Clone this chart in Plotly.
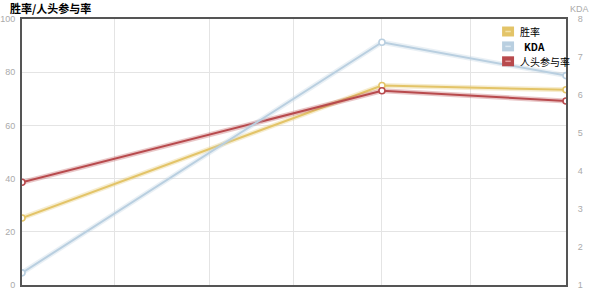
import plotly.graph_objects as go

# data
x_grid = [0, 1.02, 2.07, 2.99, 3.97, 4.95, 6]   # vertical grid positions
x_pos = [0, 3.97, 6]
win_rate = [25.2, 75.0, 73.4]        # 胜率 (%)
kill_part = [38.6, 73.0, 69.2]       # 人头参与率 (%)
kda = [1.32, 7.39, 6.51]             # KDA (right axis)
left_ticks = [0, 20, 40, 60, 80, 100]
right_ticks = [1, 2, 3, 4, 5, 6, 7, 8]
series_names = ["胜率", "KDA", "人头参与率"]

c_yellow = "#e3c468"
c_blue = "#b9cfe0"
c_red = "#b84a4d"
c_yellow_l = "#f3e3a8"
c_blue_l = "#dde9f2"
c_red_l = "#e49a9c"

FONT = "Noto Sans CJK SC"

fig = go.Figure()

def add_series(x, y, color, name, axis):
    # soft halo
    fig.add_trace(go.Scatter(x=x, y=y, mode="lines", yaxis=axis,
                             line=dict(color=color, width=5), opacity=0.3,
                             showlegend=False, hoverinfo="skip"))
    fig.add_trace(go.Scatter(x=x, y=y, mode="lines+markers", yaxis=axis,
                             line=dict(color=color, width=2),
                             marker=dict(symbol="circle", size=6, color="white",
                                         line=dict(color=color, width=1.6)),
                             showlegend=False, name=name))

add_series(x_pos, kda, c_blue, series_names[1], "y2")
add_series(x_pos, win_rate, c_yellow, series_names[0], "y")
add_series(x_pos, kill_part, c_red, series_names[2], "y")

# custom legend: icons as shapes (paper coords), labels as annotations
legend_colors = [c_yellow, c_blue, c_red]
legend_light = [c_yellow_l, c_blue_l, c_red_l]
legend_y = [0.953, 0.897, 0.841]
icon_x0, icon_x1 = 0.8825, 0.9045
icon_h = 0.0375
shapes = []
annotations = []
for nm, col, lc, ly in zip(series_names, legend_colors, legend_light, legend_y):
    shapes.append(dict(type="rect", xref="paper", yref="paper",
                       x0=icon_x0, x1=icon_x1, y0=ly - icon_h / 2, y1=ly + icon_h / 2,
                       fillcolor=col, line=dict(width=0), layer="above"))
    shapes.append(dict(type="line", xref="paper", yref="paper",
                       x0=icon_x0 + 0.006, x1=icon_x1 - 0.006, y0=ly, y1=ly,
                       line=dict(color=lc, width=1.5), layer="above"))
    label = "<b>KDA</b>" if nm == "KDA" else nm
    annotations.append(dict(text=label, xref="paper", yref="paper", x=0.913, y=ly,
                            xanchor="left", yanchor="middle", showarrow=False,
                            xshift=(4 if nm == "KDA" else 0), borderpad=0,
                            font=dict(family=FONT, size=10, color="#000000")))

annotations += [
    dict(text="<b>胜率/人头参与率</b>", xref="paper", yref="paper",
         x=-0.026, y=1.0, xanchor="left", yanchor="bottom", yshift=1,
         showarrow=False, font=dict(family=FONT, size=11, color="#000000")),
    dict(text="KDA", xref="paper", yref="paper", x=1.0, y=1.0,
         xanchor="left", yanchor="bottom", xshift=2, yshift=3, showarrow=False,
         font=dict(family="Arial", size=9, color="#aaaaaa")),
]

fig.update_layout(
    width=593, height=300,
    margin=dict(l=22, r=27, t=19, b=15),
    paper_bgcolor="white", plot_bgcolor="white",
    font=dict(family=FONT, size=9, color="#999999"),
    showlegend=False,
    xaxis=dict(range=[0, 6], tickvals=x_grid, showticklabels=False,
               showgrid=True, gridcolor="#e4e4e4", gridwidth=1,
               zeroline=False, showline=True, linecolor="#555555", linewidth=2,
               mirror=True, ticks="", automargin=False),
    yaxis=dict(range=[0, 100], tickvals=left_ticks, showgrid=True,
               gridcolor="#e4e4e4", gridwidth=1, zeroline=False,
               showline=True, linecolor="#555555", linewidth=2,
               tickfont=dict(family="Arial", size=9, color="#aaaaaa"),
               ticks="", ticklabelstandoff=3, automargin=False),
    yaxis2=dict(range=[1, 8], tickvals=right_ticks, overlaying="y", side="right",
                showgrid=False, zeroline=False, showline=True,
                linecolor="#555555", linewidth=2,
                tickfont=dict(family="Arial", size=9, color="#aaaaaa"),
                ticks="", ticklabelstandoff=8, automargin=False),
    shapes=shapes,
    annotations=annotations,
)

fig.write_html("out.html")
